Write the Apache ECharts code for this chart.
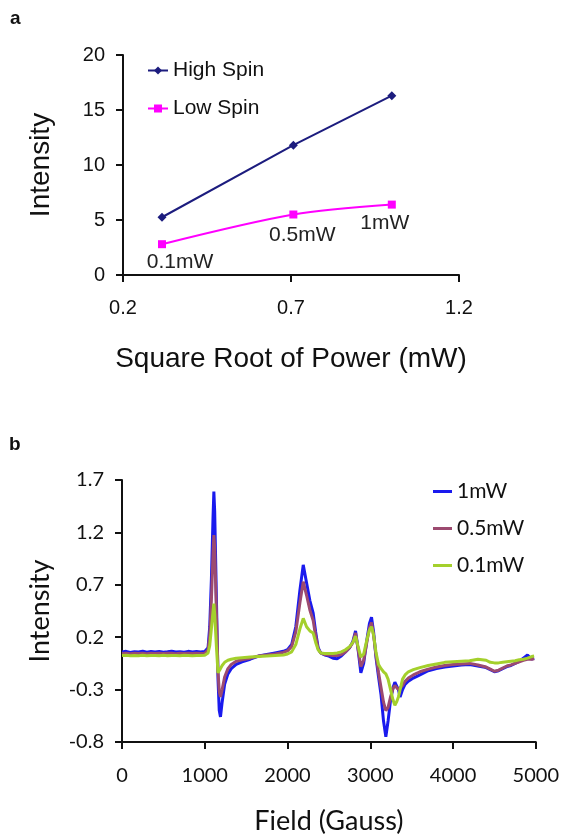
<!DOCTYPE html>
<html>
<head>
<meta charset="utf-8">
<script src="https://cdn.jsdelivr.net/npm/echarts@6/dist/echarts.min.js"></script>
<style>
html,body{margin:0;padding:0;background:#fff;}
#chart{width:562px;height:840px;}
</style>
</head>
<body>
<div id="chart"></div>
<script>
// ---------- Panel a ----------
const powerX = [0.316, 0.707, 1.0];
const highSpin = [5.25, 11.8, 16.3];
const lowSpin = [2.8, 5.5, 6.4];
const powerLabels = ['0.1mW', '0.5mW', '1mW'];
const xTicksA = [0.2, 0.7, 1.2];

// ---------- Panel b ----------
const field = [
  0,50,100,150,200,250,300,350,400,450,500,550,600,650,700,750,800,850,900,950,1000,
  1020,1040,1060,1080,1100,1110,1120,1140,1160,1175,1190,1210,1240,1280,1320,1380,1450,
  1550,1650,1750,1850,1950,2000,2050,2100,2150,2190,2230,2270,2310,2340,2370,2400,
  2450,2500,2550,2600,2650,2700,2750,2790,2822,2850,2886,2920,2960,2990,3015,3040,3070,3100,3130,3160,3188,3215,3245,3275,3297,3317,3340,3360,3390,3420,3460,3520,
  3600,3700,3800,3900,4000,4100,4200,4300,4400,4450,4500,4550,4600,4650,4700,4750,4800,4850,4900,4950,4980
];
const mw1 = [
  0.06,0.065,0.055,0.062,0.058,0.066,0.057,0.063,0.059,0.064,0.056,0.061,0.067,0.058,0.062,0.057,0.065,0.06,0.063,0.058,0.064,
  0.07,0.1,0.3,0.75,1.35,1.59,1.4,0.6,-0.2,-0.5,-0.56,-0.42,-0.25,-0.15,-0.1,-0.06,-0.035,
  -0.01,0.02,0.035,0.05,0.065,0.08,0.13,0.3,0.65,0.89,0.72,0.55,0.43,0.25,0.1,0.05,
  0.03,0.02,0.0,-0.005,0.02,0.06,0.1,0.16,0.26,0.1,-0.14,-0.05,0.18,0.33,0.39,0.25,0.0,-0.18,-0.35,-0.6,-0.75,-0.6,-0.4,-0.28,-0.23,-0.22,-0.3,-0.37,-0.3,-0.25,-0.22,-0.19,
  -0.16,-0.12,-0.1,-0.085,-0.075,-0.065,-0.06,-0.075,-0.09,-0.11,-0.13,-0.12,-0.1,-0.08,-0.07,-0.05,-0.03,0.0,0.03,-0.01,0.0
];
const mw05 = [
  0.045,0.048,0.043,0.046,0.044,0.047,0.043,0.046,0.045,0.048,0.044,0.046,0.047,0.043,0.046,0.044,0.047,0.045,0.046,0.044,0.047,
  0.055,0.08,0.22,0.55,1.0,1.175,1.05,0.45,-0.12,-0.32,-0.37,-0.3,-0.18,-0.1,-0.06,-0.03,-0.015,
  0.0,0.02,0.03,0.04,0.055,0.07,0.11,0.25,0.53,0.73,0.6,0.46,0.36,0.21,0.09,0.05,
  0.035,0.03,0.025,0.025,0.035,0.06,0.1,0.15,0.24,0.1,-0.08,-0.02,0.16,0.29,0.34,0.22,0.02,-0.14,-0.28,-0.42,-0.5,-0.47,-0.37,-0.29,-0.26,-0.26,-0.3,-0.3,-0.26,-0.22,-0.19,-0.16,
  -0.13,-0.105,-0.085,-0.07,-0.06,-0.055,-0.05,-0.065,-0.085,-0.105,-0.125,-0.115,-0.095,-0.075,-0.065,-0.05,-0.035,-0.02,-0.01,-0.01,-0.005
];
const mw01 = [
  0.025,0.027,0.023,0.026,0.024,0.027,0.023,0.025,0.026,0.024,0.027,0.023,0.026,0.025,0.024,0.027,0.025,0.023,0.026,0.025,0.027,
  0.03,0.05,0.12,0.28,0.45,0.52,0.42,0.12,-0.14,-0.14,-0.1,-0.07,-0.04,-0.02,-0.01,0.0,0.005,
  0.01,0.015,0.02,0.025,0.03,0.04,0.06,0.13,0.28,0.38,0.3,0.26,0.24,0.15,0.08,0.05,
  0.045,0.045,0.045,0.05,0.06,0.08,0.11,0.15,0.21,0.12,0.01,0.04,0.18,0.27,0.3,0.22,0.05,-0.06,-0.1,-0.13,-0.15,-0.2,-0.3,-0.4,-0.45,-0.42,-0.37,-0.3,-0.2,-0.16,-0.13,-0.11,
  -0.09,-0.07,-0.055,-0.04,-0.035,-0.03,-0.025,-0.01,-0.02,-0.04,-0.045,-0.045,-0.04,-0.035,-0.03,-0.025,-0.015,-0.01,0.0,0.015,0.02
];
const yTicksB = [-0.8, -0.3, 0.2, 0.7, 1.2, 1.7];

const fontA = '"Liberation Sans", Arial, sans-serif';
const fontB = 'Lato, "Open Sans", sans-serif';
const ink = '#111';

function pairs(xs, ys) { return xs.map((x, i) => [x, ys[i]]); }

const labelOffsets = [[18, -2], [9, 0], [-7, -2]];
const lowData = powerX.map((x, i) => ({
  value: [x, lowSpin[i]],
  label: { offset: labelOffsets[i] }
}));

const chart = echarts.init(document.getElementById('chart'), null, { renderer: 'canvas' });
const axisLineStyle = { onZero: false, lineStyle: { color: ink, width: 2 } };
const axisTickStyle = { length: 7, lineStyle: { color: ink, width: 2 } };

chart.setOption({
  backgroundColor: '#fff',
  animation: false,
  graphic: [
    { type: 'text', left: 10, top: 9, style: { text: 'a', font: 'bold 19px ' + fontA, fill: ink } },
    { type: 'text', left: 9, top: 435, style: { text: 'b', font: 'bold 19px ' + fontA, fill: ink } }
  ],
  legend: [
    {
      data: ['High Spin', 'Low Spin'],
      orient: 'vertical', left: 142, top: 55,
      itemWidth: 20, itemHeight: 10, itemGap: 17,
      textStyle: { fontFamily: fontA, fontSize: 21, color: ink }
    },
    {
      data: ['1mW', '0.5mW', '0.1mW'],
      orient: 'vertical', left: 428, top: 476,
      icon: 'rect', itemWidth: 19, itemHeight: 3, itemGap: 16,
      textStyle: { fontFamily: fontB, fontSize: 21, color: ink }
    }
  ],
  grid: [
    { left: 123, width: 336, top: 55, height: 220 },
    { left: 122, width: 414, top: 480, height: 262 }
  ],
  xAxis: [
    {
      gridIndex: 0, type: 'value', min: 0.2, max: 1.2,
      name: 'Square Root of Power (mW)', nameLocation: 'middle', nameGap: 70,
      nameTextStyle: { fontFamily: fontA, fontSize: 28, color: ink },
      axisLine: axisLineStyle,
      axisTick: Object.assign({ customValues: xTicksA }, axisTickStyle),
      axisLabel: { customValues: xTicksA, margin: 23, fontFamily: fontA, fontSize: 20, color: ink },
      splitLine: { show: false }
    },
    {
      gridIndex: 1, type: 'value', min: 0, max: 5000, interval: 1000,
      name: 'Field (Gauss)', nameLocation: 'middle', nameGap: 66,
      nameTextStyle: { fontFamily: fontB, fontSize: 27, color: ink },
      axisLine: axisLineStyle,
      axisTick: axisTickStyle,
      axisLabel: { margin: 24, fontFamily: fontB, fontSize: 20, color: ink, formatter: v => String(v) },
      splitLine: { show: false }
    }
  ],
  yAxis: [
    {
      gridIndex: 0, type: 'value', min: 0, max: 20, interval: 5,
      name: 'Intensity', nameLocation: 'middle', nameGap: 68,
      nameTextStyle: { fontFamily: fontA, fontSize: 28, color: ink },
      axisLine: Object.assign({ show: true }, axisLineStyle),
      axisTick: Object.assign({ show: true }, axisTickStyle),
      axisLabel: { margin: 18, fontFamily: fontA, fontSize: 20, color: ink },
      splitLine: { show: false }
    },
    {
      gridIndex: 1, type: 'value', min: -0.8, max: 1.7,
      name: 'Intensity', nameLocation: 'middle', nameGap: 68,
      nameTextStyle: { fontFamily: fontB, fontSize: 27, color: ink },
      axisLine: Object.assign({ show: true }, axisLineStyle),
      axisTick: Object.assign({ show: true, customValues: yTicksB }, axisTickStyle),
      axisLabel: { customValues: yTicksB, margin: 18, fontFamily: fontB, fontSize: 20, color: ink },
      splitLine: { show: false }
    }
  ],
  series: [
    {
      name: 'High Spin', type: 'line', xAxisIndex: 0, yAxisIndex: 0,
      data: pairs(powerX, highSpin),
      symbol: 'diamond', symbolSize: 9,
      lineStyle: { color: '#1c1c7e', width: 2 },
      itemStyle: { color: '#1c1c7e' }
    },
    {
      name: 'Low Spin', type: 'line', xAxisIndex: 0, yAxisIndex: 0,
      data: lowData, smooth: 0.3,
      symbol: 'rect', symbolSize: 8,
      lineStyle: { color: '#ff00ff', width: 2 },
      itemStyle: { color: '#ff00ff' },
      label: {
        show: true, position: 'bottom', distance: 6,
        formatter: p => powerLabels[p.dataIndex],
        fontFamily: fontA, fontSize: 21, color: '#222'
      }
    },
    {
      name: '1mW', type: 'line', xAxisIndex: 1, yAxisIndex: 1,
      data: pairs(field, mw1), symbol: 'none',
      lineStyle: { color: '#1a1aee', width: 3 }, itemStyle: { color: '#1a1aee' }
    },
    {
      name: '0.5mW', type: 'line', xAxisIndex: 1, yAxisIndex: 1,
      data: pairs(field, mw05), symbol: 'none',
      lineStyle: { color: '#9c4a70', width: 3 }, itemStyle: { color: '#9c4a70' }
    },
    {
      name: '0.1mW', type: 'line', xAxisIndex: 1, yAxisIndex: 1,
      data: pairs(field, mw01), symbol: 'none',
      lineStyle: { color: '#a4d02c', width: 3 }, itemStyle: { color: '#a4d02c' }
    }
  ]
});
</script>
</body>
</html>
